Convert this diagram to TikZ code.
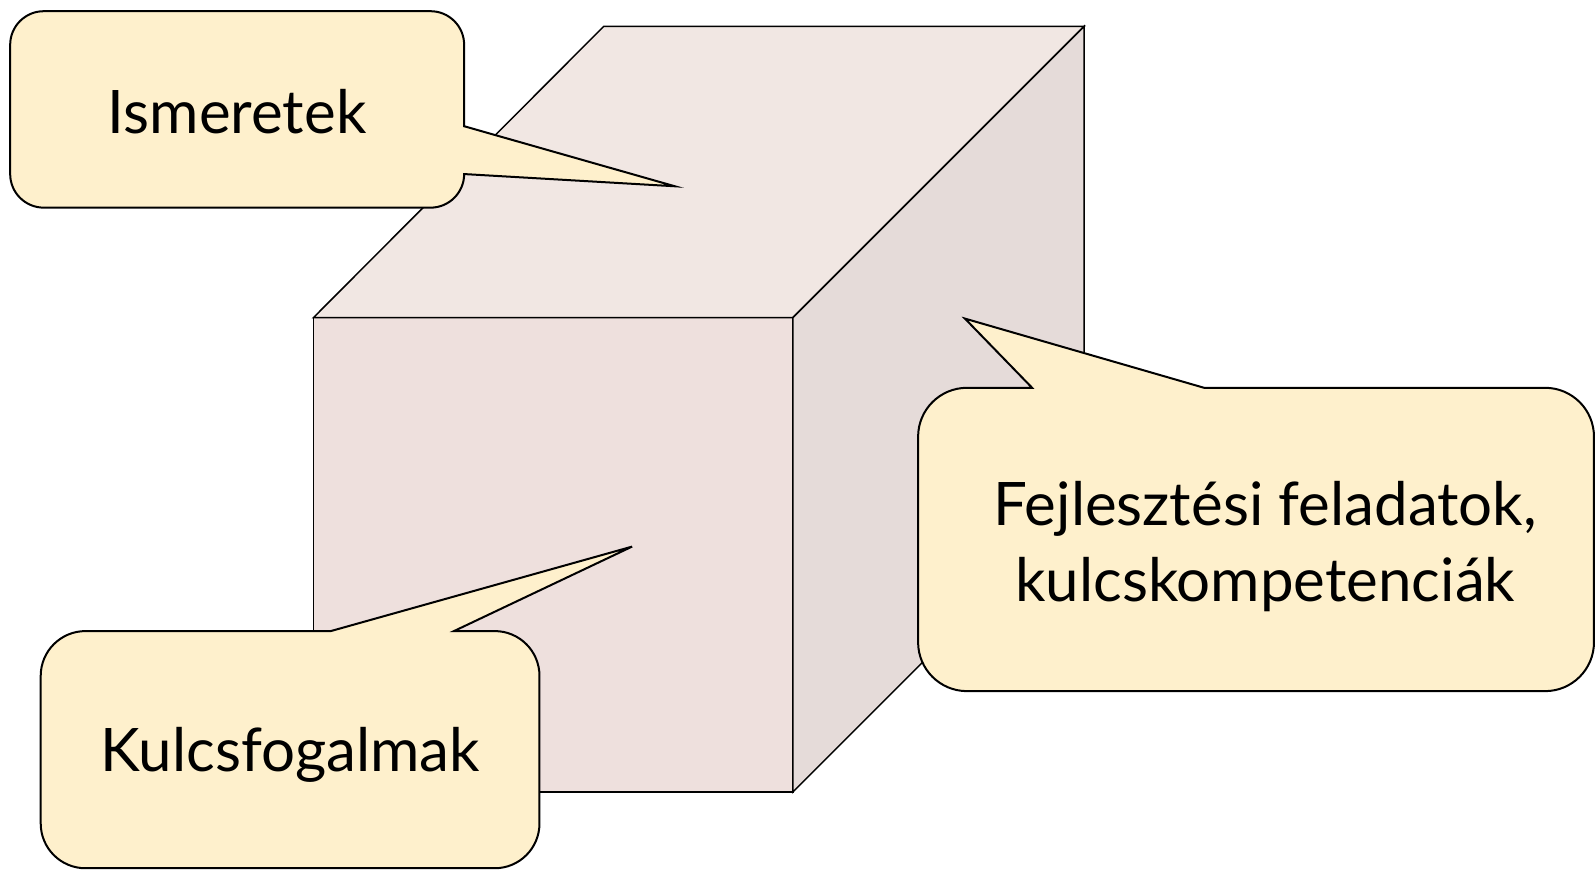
\documentclass[tikz,border=0pt]{standalone}
\usepackage{fontspec}
\setmainfont{Lato}
\definecolor{topface}{HTML}{F1E7E3}
\definecolor{frontface}{HTML}{EEE0DD}
\definecolor{sideface}{HTML}{E5DBD9}
\definecolor{callfill}{HTML}{FEF0CC}
\begin{document}
\begin{tikzpicture}[x=1.0179pt,y=-1.0179pt,
  face/.style={draw=black,line width=1.5pt,line join=miter},
  callout/.style={draw=black,fill=callfill,line width=2pt,line join=miter},
  calltext/.style={font=\fontsize{60}{76}\selectfont,align=center,inner sep=0pt}]
\useasboundingbox (0,0) rectangle (1568,854.7);
% cube
\coordinate (fl) at (308,312);
\coordinate (fr) at (779,312);
\coordinate (bl) at (308,778);
\coordinate (br) at (779,778);
\coordinate (tbl) at (593,26);
\coordinate (tbr) at (1065,26);
\coordinate (bbr) at (1065,492);
\draw[face,fill=frontface] (fl) -- (fr) -- (br) -- (bl) -- cycle;
\draw[face,fill=topface] (fl) -- (tbl) -- (tbr) -- (fr) -- cycle;
\draw[face,fill=sideface] (fr) -- (tbr) -- (bbr) -- (br) -- cycle;
% callout 1
\draw[callout] (43,11) -- (423,11) .. controls (441.2,11) and (456,25.8) .. (456,44)
  -- (456,124) -- (663,183) -- (456,171)
  .. controls (456,189.2) and (441.2,204) .. (423,204) -- (43,204)
  .. controls (24.8,204) and (10,189.2) .. (10,171) -- (10,44)
  .. controls (10,25.8) and (24.8,11) .. (43,11) -- cycle;
\node[calltext] (ism) at (233,110) {Ismeretek};
% callout 2
\draw[callout] (1014,381) -- (948,313) -- (1183,381) -- (1518,381)
  .. controls (1544.5,381) and (1566,402.5) .. (1566,429) -- (1566,631)
  .. controls (1566,657.5) and (1544.5,679) .. (1518,679) -- (950,679)
  .. controls (923.5,679) and (902,657.5) .. (902,631) -- (902,429)
  .. controls (902,402.5) and (923.5,381) .. (950,381) -- cycle;
\node[calltext] (fej) at (1243,537) {Fejlesztési feladatok,\\kulcskompetenciák};
% callout 3
\draw[callout] (325,620) -- (621,537) -- (446,620) -- (486,620)
  .. controls (510.3,620) and (530,639.7) .. (530,664) -- (530,809)
  .. controls (530,833.3) and (510.3,853) .. (486,853) -- (84,853)
  .. controls (59.7,853) and (40,833.3) .. (40,809) -- (40,664)
  .. controls (40,639.7) and (59.7,620) .. (84,620) -- cycle;
\node[calltext] (kul) at (285,742) {Kulcsfogalmak};
\end{tikzpicture}
\end{document}
